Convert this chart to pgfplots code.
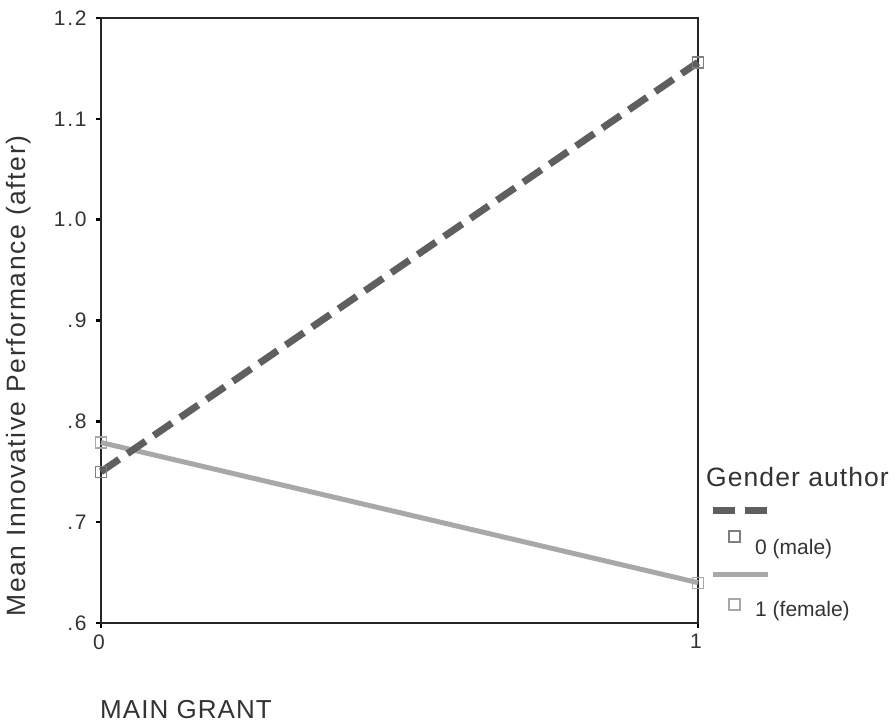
\documentclass[border=0pt]{standalone}
\usepackage{pgfplots}
\pgfplotsset{compat=1.18}
\usepackage{fontspec}
\setmainfont{Liberation Sans}
\newfontfamily\lsA[LetterSpace=6]{Liberation Sans}
\newfontfamily\lsB[LetterSpace=4]{Liberation Sans}
\newfontfamily\lsC[LetterSpace=8]{Liberation Sans}
\definecolor{maleC}{HTML}{5F5F5F}
\definecolor{femC}{HTML}{A8A8A8}
\definecolor{txtC}{HTML}{333333}
\begin{document}
\begin{tikzpicture}[x=1bp,y=1bp]
\useasboundingbox (0,0) rectangle (896,725);
\begin{axis}[
  at={(101bp,102bp)}, anchor=south west,
  scale only axis, width=597bp, height=605bp,
  xmin=0, xmax=1, ymin=0.6, ymax=1.2,
  xtick={0,1}, xticklabels={0,1},
  ytick={0.6,0.7,0.8,0.9,1.0,1.1,1.2},
  yticklabels={.6,.7,.8,.9,1.0,1.1,1.2},
  tick align=outside, major tick length=5bp,
  tick pos=left,
  every tick/.style={black, line width=2.5bp},
  axis line style={line width=1.5bp, black!85},
  ticklabel style={font=\lsC\fontsize{21bp}{24bp}\selectfont, text=txtC},
  yticklabel style={xshift=-6bp},
  xticklabel style={yshift=-3bp, xshift=-2bp},
  /pgf/number format/assume math mode=true,
  clip=false,
]
\addplot[femC, line width=5bp, mark=square, mark size=5.5bp,
  mark options={solid, line width=1.3bp, draw=femC}]
  coordinates {(0,0.779) (1,0.640)};
\addplot[maleC, line width=7bp, dash pattern=on 22bp off 10bp, mark=square, mark size=5.5bp,
  mark options={solid, line width=1.3bp, draw=maleC!80}]
  coordinates {(0,0.750) (1,1.156)};
\end{axis}
\node[rotate=90, text=txtC, inner sep=0, font=\lsA\fontsize{26.5bp}{30bp}\selectfont] at (19,349) {Mean Innovative Performance (after)};
\node[anchor=base west, text=txtC, inner sep=0, font=\lsB\fontsize{26bp}{30bp}\selectfont] at (100,6) {MAIN GRANT};
% legend
\node[anchor=base west, text=txtC, inner sep=0, font=\lsB\fontsize{26.5bp}{30bp}\selectfont] at (706,238) {Gender author};
\draw[maleC, line width=7bp, dash pattern=on 22bp off 10bp] (713,214) -- (768,214);
\draw[maleC!80, line width=1.3bp] (729,183) rectangle (740,194);
\node[anchor=base west, text=txtC, inner sep=0, font=\fontsize{21bp}{24bp}\selectfont] at (755,170) {0 (male)};
\draw[femC, line width=5bp] (713,150) -- (768,150);
\draw[femC, line width=1.3bp] (729,115) rectangle (740,126);
\node[anchor=base west, text=txtC, inner sep=0, font=\fontsize{21bp}{24bp}\selectfont] at (755,108) {1 (female)};
\end{tikzpicture}
\end{document}
